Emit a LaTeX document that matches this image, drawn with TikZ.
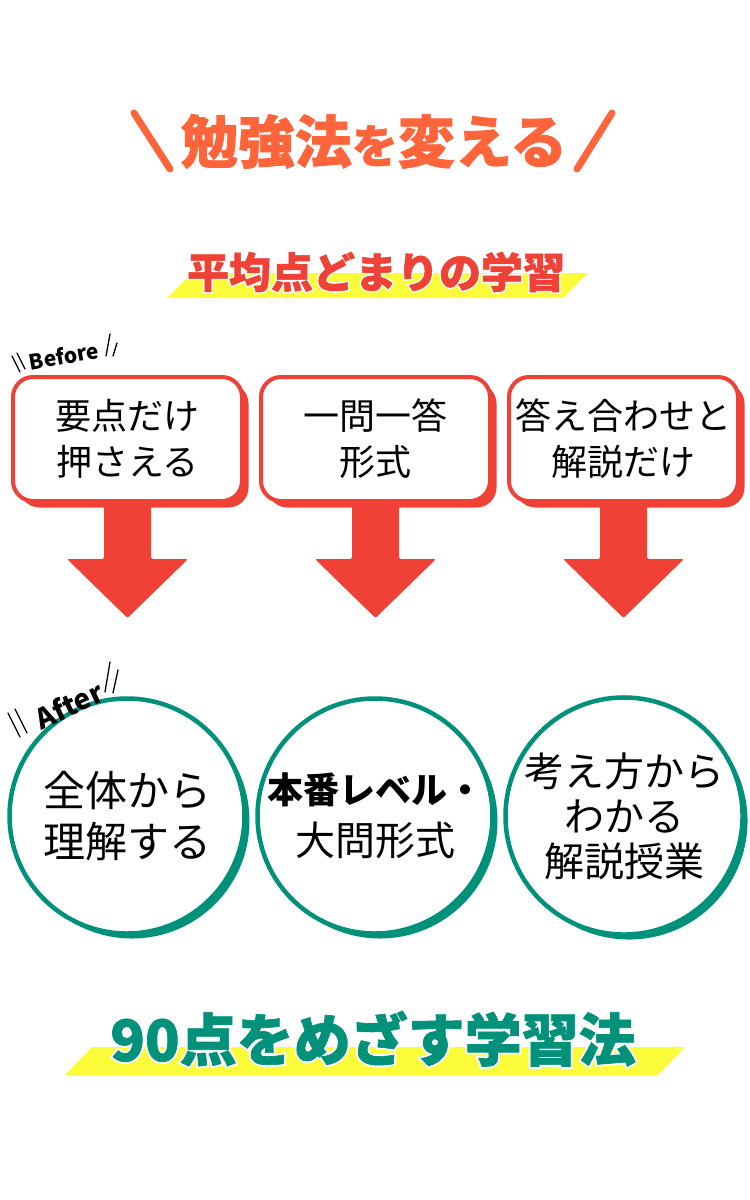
\documentclass[tikz,border=0pt]{standalone}
\usepackage{fontspec}
\setmainfont{Noto Sans CJK JP}
\newfontfamily\heavyjp{Noto Sans CJK JP}[BoldFeatures={FakeBold=1.2}]
\newfontfamily\halojp{Noto Sans CJK JP}[BoldFeatures={FakeBold=8}]
\usepackage{tikz}
\usetikzlibrary{positioning,shadows,calc}
\definecolor{titleorange}{HTML}{FF643A}
\definecolor{boxred}{HTML}{EF4136}
\definecolor{markyellow}{HTML}{FCFC3B}
\definecolor{aftergreen}{HTML}{00917B}
\tikzset{
  titletext/.style={anchor=base, inner sep=0pt, text=titleorange, font=\fontsize{57}{57}\selectfont\heavyjp\bfseries},
  titleslash/.style={titleorange, line width=7pt, line cap=round},
  headline/.style={anchor=base, inner sep=0pt},
  marker/.style={fill=markyellow},
  beforebox/.style={draw=boxred, line width=4pt, fill=white, rounded corners=20pt, minimum width=229pt, minimum height=124pt, align=center, font=\fontsize{36}{46}\selectfont, drop shadow={shadow xshift=6.5pt, shadow yshift=-6.5pt, fill=boxred, opacity=1}},
  aftercircle/.style={circle, draw=aftergreen, line width=4.5pt, fill=white, minimum size=235pt, inner sep=0pt, align=center, drop shadow={shadow xshift=5pt, shadow yshift=-5pt, fill=aftergreen, opacity=1}},
  downarrow/.style={fill=boxred, rounded corners=2pt},
  tag/.style={inner sep=0pt, font=\bfseries},
  slash/.style={line width=1.3pt, line cap=round}
}
\begin{document}
\begin{tikzpicture}[x=1pt, y=-1pt]
  \fill[white] (0,0) rectangle (750,1200);
  \useasboundingbox (0,0) rectangle (750,1200);
  % title
  \node[titletext] (title) at (374,163) {勉強法{\fontsize{46}{46}\selectfont を}変える};
  \draw[titleslash] (134,113) -- (170,169);
  \draw[titleslash] (612,113) -- (577,169);
  % before heading
  \fill[marker] (167,298) -- (192,273) -- (588,273) -- (563,298) -- cycle;
  \node[headline, text=white, font=\fontsize{42}{42}\selectfont\halojp\bfseries] (avghalo) at (376,288) {平均点どまりの学習};
  \node[headline, text=boxred, font=\fontsize{42}{42}\selectfont\heavyjp\bfseries] (avg) at (avghalo.base) {平均点どまりの学習};
  % before boxes
  \node[beforebox] (box1) at (127.5,439) {要点だけ\\押さえる};
  \node[beforebox, right=15pt of box1] (box2) {一問一答\\形式};
  \node[beforebox, right=15pt of box2] (box3) {答え合わせと\\解説だけ};
  \node[tag, rotate=10, font=\fontsize{21}{21}\selectfont\bfseries] (before) at (64,356) {Before};
  \draw[slash] (12,356) -- (20,372);
  \draw[slash] (17,353) -- (25,369);
  \draw[slash] (110,334) -- (106,356);
  \draw[slash] (117,343) -- (113,356);
  % arrows
  \foreach \b in {box1,box2,box3}
    \fill[downarrow] ($(\b.south)+(-23.5,-2)$) -- ++(0,58) -- ++(-37,0) -- ++(60.5,59) -- ++(60.5,-59) -- ++(-37,0) -- ++(0,-58) -- cycle;
  % after circles
  \node[aftercircle, font=\fontsize{42}{51}\selectfont] (circ1) at (127,816) {全体から\\理解する};
  \node[aftercircle, right=8.5pt of circ1, font=\fontsize{40}{52}\selectfont] (circ2) {{\bfseries\fontsize{36}{52}\selectfont 本番レベル・}\\大問形式};
  \node[aftercircle, right=8.5pt of circ2, font=\fontsize{40}{45}\selectfont] (circ3) {考え方から\\わかる\\解説授業};
  \node[tag, rotate=25, font=\fontsize{28}{28}\selectfont\bfseries] (after) at (69,705) {After};
  \draw[slash] (8,713) -- (20,737);
  \draw[slash] (15,709) -- (27,733);
  \draw[slash] (110,662) -- (105,692);
  \draw[slash] (118,670) -- (113,693);
  % after heading
  \fill[marker] (65,1075) -- (92,1047) -- (685,1047) -- (658,1075) -- cycle;
  \node[headline, text=white, font=\fontsize{57}{57}\selectfont\halojp\bfseries] (goalhalo) at (373,1061) {90点をめざす学習法};
  \node[headline, text=aftergreen, font=\fontsize{57}{57}\selectfont\heavyjp\bfseries] (goal) at (goalhalo.base) {90点をめざす学習法};
\end{tikzpicture}
\end{document}
